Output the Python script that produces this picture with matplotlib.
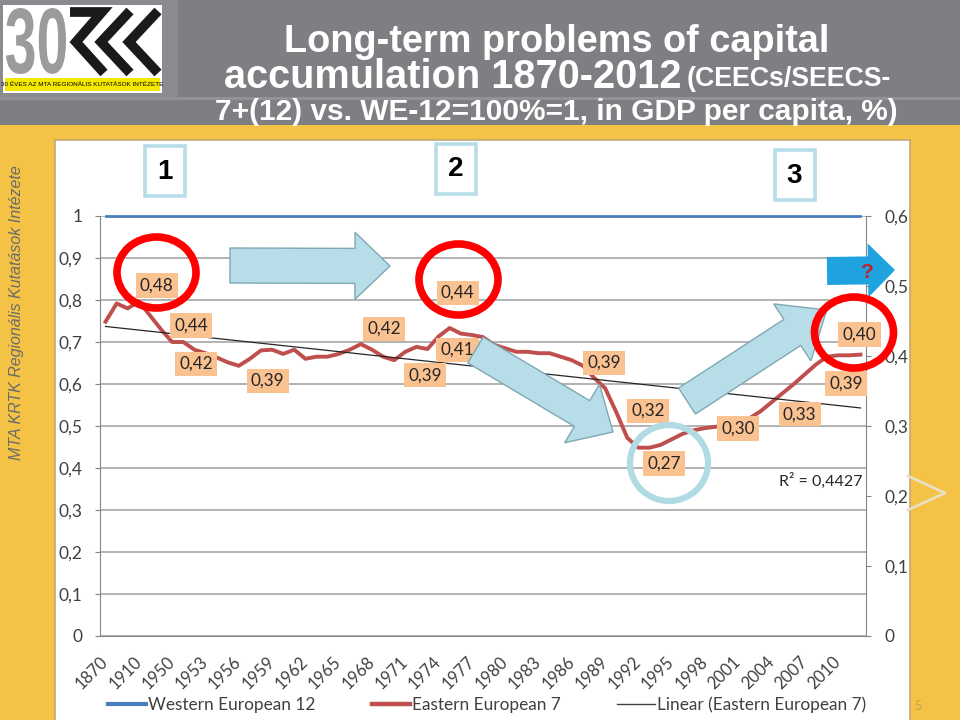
import numpy as np
import matplotlib.pyplot as plt
from matplotlib.patches import Rectangle, Ellipse, Polygon, PathPatch
from matplotlib.lines import Line2D
from matplotlib.textpath import TextPath
from matplotlib.font_manager import FontProperties
from matplotlib.transforms import Affine2D

plt.rcParams['font.family'] = ['Lato', 'DejaVu Sans']

# categories (x axis) - 1870..1938 sparse, then yearly
years = [1870, 1890, 1900, 1910, 1929, 1938] + list(range(1950, 2013))

# Eastern European 7 relative to WE-12 (right axis, 0-0.6)
east = [0.449, 0.475, 0.468, 0.478, 0.458, 0.438, 0.420, 0.420, 0.409, 0.404,
        0.398, 0.391, 0.386, 0.396, 0.408, 0.409, 0.403, 0.409, 0.396, 0.399,
        0.399, 0.403, 0.409, 0.417, 0.409, 0.399, 0.394, 0.406, 0.413, 0.410,
        0.428, 0.440, 0.432, 0.430, 0.427, 0.416, 0.411, 0.406, 0.406, 0.404,
        0.404, 0.399, 0.394, 0.386, 0.369, 0.354, 0.320, 0.283, 0.269, 0.269,
        0.273, 0.281, 0.289, 0.294, 0.297, 0.299, 0.301, 0.304, 0.311, 0.321,
        0.334, 0.347, 0.360, 0.374, 0.388, 0.399, 0.401, 0.401, 0.402]

# Western European 12 = 100% = 1 (left axis)
west = [1.0] * len(years)

# which points carry a data label
label_idx = [3, 5, 6, 12, 23, 26, 29, 31, 43, 46, 48, 55, 60, 64, 68]
# label offsets in pixels (dx right, dy down)
label_off = [(18, -16), (30, -4), (24, 22), (29, 15), (23, -15), (31, 15),
             (30, 1), (8, -35), (21, -3), (32, -1), (26, 16), (22, 2),
             (28, 12), (30, 19), (-1, -20)]

left_ticks = [0, 0.1, 0.2, 0.3, 0.4, 0.5, 0.6, 0.7, 0.8, 0.9, 1.0]
right_ticks = [0, 0.1, 0.2, 0.3, 0.4, 0.5, 0.6]


def comma(v):
    s = ('%.1f' % v).rstrip('0').rstrip('.') if v not in (0, 1) else '%d' % v
    return s.replace('.', ',')


def arrow_poly(tail, tip, bw, hw, hl):
    tail = np.array(tail, float)
    tip = np.array(tip, float)
    d = tip - tail
    d = d / np.hypot(*d)
    p = np.array([-d[1], d[0]])
    base = tip - hl * d
    return [tail + p * bw / 2, base + p * bw / 2, base + p * hw / 2, tip,
            base - p * hw / 2, base - p * bw / 2, tail - p * bw / 2]


fig = plt.figure(figsize=(9.6, 7.2), dpi=100)

# ---- slide background ----
bg = fig.add_axes([0, 0, 1, 1], zorder=-10)
bg.set_xlim(0, 960)
bg.set_ylim(720, 0)
bg.axis('off')
bg.add_patch(Rectangle((0, 0), 960, 720, fc='#f4c244', ec='none'))
bg.add_patch(Rectangle((0, 0), 960, 125, fc='#7e7f83', ec='none'))
bg.add_patch(Rectangle((0, 0), 178, 97, fc='#8a8b8e', ec='none'))
bg.add_patch(Rectangle((0, 97), 960, 3, fc='#929396', ec='none'))
bg.add_patch(Rectangle((55, 140), 855, 582, fc='white', ec='#c3a874', lw=1.2))

# logo
bg.add_patch(Rectangle((3, 5), 159, 88, fc='white', ec='none'))
bg.add_patch(Rectangle((5, 78), 155, 13, fc='#f3e800', ec='none'))
bg.text(82, 85, '30 ÉVES AZ MTA REGIONÁLIS KUTATÁSOK INTÉZETE', ha='center',
        va='center', fontsize=4.6, color='black',
        family=['Liberation Sans Narrow', 'Liberation Sans'])
fp = FontProperties(family=['Liberation Sans Narrow', 'Liberation Sans'], weight='bold')
tp = TextPath((0, 0), '30', size=100, prop=fp)
bb = tp.get_extents()
tr = Affine2D().translate(-bb.x0, -bb.y0).scale(60 / bb.width, -66 / bb.height).translate(6, 74)
bg.add_patch(PathPatch(tr.transform_path(tp), fc='#9b9b9b', ec='none'))
for pts in ([(70, 12), (102, 12), (76, 42), (104, 73)],
            [(130, 11), (101, 42), (130, 73)],
            [(158, 11), (129, 42), (158, 73)]):
    xs, ys = zip(*pts)
    bg.plot(xs, ys, color='#1a1a1a', lw=7, solid_joinstyle='miter', solid_capstyle='butt')

# title
tfont = ['Liberation Sans', 'DejaVu Sans']
bg.text(557, 42, 'Long-term problems of capital', ha='center', va='center',
        color='white', fontsize=27.3, fontweight='bold', family=tfont)
bg.text(681, 77, 'accumulation 1870-2012', ha='right', va='center',
        color='white', fontsize=28.6, fontweight='bold', family=tfont)
bg.text(687, 79, '(CEECs/SEECS-', ha='left', va='center',
        color='white', fontsize=19.3, fontweight='bold', family=tfont)
bg.text(556, 112, '7+(12) vs. WE-12=100%=1, in GDP per capita, %)', ha='center',
        va='center', color='white', fontsize=21.5, fontweight='bold', family=tfont)

bg.text(17, 313, 'MTA KRTK Regionális Kutatások Intézete', rotation=90,
        ha='center', va='center', fontsize=11.5, style='italic', color='#6b6b6b',
        family=['Liberation Sans', 'DejaVu Sans'])
bg.plot([908, 945, 908], [476, 493, 510], color='#e9dfc2', lw=2)
bg.text(918, 706, '5', ha='center', va='center', fontsize=9, color='#bfa55e')

# ---- chart ----
x = np.arange(len(years))
ax = fig.add_axes([100 / 960, 84 / 720, 766 / 960, 420 / 720], zorder=1)
ax.set_facecolor('none')
ax.set_xlim(-0.5, len(years) - 0.5)
ax.set_ylim(0, 1)
ax.set_yticks(left_ticks)
ax.set_yticklabels([comma(t) for t in left_ticks])
ax.yaxis.grid(True, color='#a6a6a6', lw=1.2)
ax.set_axisbelow(True)
ax.set_xticks(x[::3])
ax.set_xticklabels([str(years[i]) for i in x[::3]], rotation=45, ha='right',
                   va='center', rotation_mode='anchor')
ax.tick_params(axis='x', length=0, pad=17, labelsize=12, labelcolor='#404040')
ax.tick_params(axis='y', length=3.5, pad=9, labelsize=12.5, labelcolor='#404040',
               color='#868686')
for s in ['top', 'right']:
    ax.spines[s].set_visible(False)
for s in ['left', 'bottom']:
    ax.spines[s].set_color('#868686')
ax.plot(x, west, color='#4a7ebb', lw=2, clip_on=False, zorder=3)

ax2 = ax.twinx()
ax2.set_ylim(0, 0.6)
ax2.set_yticks(right_ticks)
ax2.set_yticklabels([comma(t) for t in right_ticks])
ax2.tick_params(axis='y', length=3.5, pad=9.5, labelsize=12.5, labelcolor='#404040',
                color='#868686')
for s in ['top', 'left', 'bottom']:
    ax2.spines[s].set_visible(False)
ax2.spines['right'].set_color('#868686')
ax2.plot(x, east, color='#bf4f4c', lw=2.8, solid_joinstyle='round', zorder=3)

k, b = np.polyfit(x, east, 1)
ax2.plot(x, k * x + b, color='#262626', lw=0.9, zorder=4)

for i, (dx, dy) in zip(label_idx, label_off):
    ax2.annotate(('%.2f' % east[i]).replace('.', ','), (x[i], east[i]),
                 xytext=(dx, -dy), textcoords='offset pixels', ha='center',
                 va='center', fontsize=12.3, color='#262626', zorder=6,
                 bbox=dict(boxstyle='square,pad=0.25', fc='#fac191', ec='none'))

handles = [Line2D([], [], color='#4a7ebb', lw=3),
           Line2D([], [], color='#bf4f4c', lw=3.2),
           Line2D([], [], color='#404040', lw=1)]
names = ['Western European 12', 'Eastern European 7', 'Linear (Eastern European 7)']
leg = fig.legend(handles, names, loc='center', bbox_to_anchor=(487 / 960, 15 / 720),
                 ncol=3, frameon=False, fontsize=12.4, handlelength=2.2,
                 columnspacing=3.3, handletextpad=0.1)
for t in leg.get_texts():
    t.set_color('#404040')

# ---- overlay shapes ----
ov = fig.add_axes([0, 0, 1, 1], zorder=10)
ov.set_facecolor('none')
ov.set_xlim(0, 960)
ov.set_ylim(720, 0)
ov.axis('off')

for cx, cy, num in [(164.5, 171, '1'), (455.5, 168.5, '2'), (794.5, 175, '3')]:
    ov.add_patch(Rectangle((cx - 20, cy - 25), 40, 50, fc='white', ec='#b7dde8', lw=2.6))
    ov.text(cx, cy + 1, num, ha='center', va='center', fontsize=20, fontweight='bold',
            color='black', family=['Liberation Sans', 'DejaVu Sans'])

light = dict(fc='#b7dde8', ec='#7fa8b3', lw=1)
ov.add_patch(Polygon(arrow_poly((230, 265.5), (390, 266), 35, 67, 35), **light))
ov.add_patch(Polygon(arrow_poly((475.5, 350), (613, 432), 30, 68, 36), **light))
ov.add_patch(Polygon(arrow_poly((687, 401), (826.7, 310), 31, 68, 41), **light))
ov.add_patch(Polygon(arrow_poly((827, 271), (895, 270), 28, 54, 27),
                     fc='#1ea2e0', ec='none'))
ov.text(867, 272, '?', ha='center', va='center', fontsize=15, fontweight='bold',
        color='#c0202a', family=['Liberation Sans', 'DejaVu Sans'])

for cx, cy in [(156.5, 272.5), (458.5, 279.5), (854, 332.5)]:
    ov.add_patch(Ellipse((cx, cy), 79, 71, fc='none', ec='#ff0000', lw=5.5))
ov.add_patch(Ellipse((669, 463), 78, 76, fc='none', ec='#b0dbe3', lw=4.5))

ov.text(821, 481, 'R² = 0,4427', ha='center', va='center', fontsize=11.5, color='#262626')

fig.savefig('out.png', dpi=100)
